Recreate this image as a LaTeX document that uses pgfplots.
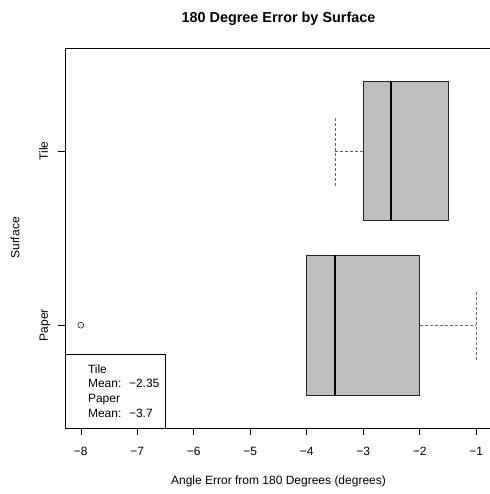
\documentclass[border=0pt]{standalone}
\usepackage{fontspec}
\setmainfont{Liberation Sans}
\usepackage{pgfplots}
\pgfplotsset{compat=1.18}
\usepgfplotslibrary{statistics}
\definecolor{boxgray}{HTML}{BEBEBE}
\begin{document}
\fontsize{12}{14}\selectfont
\begin{tikzpicture}
\begin{axis}[
  scale only axis,
  width=427pt, height=380pt,
  xmin=-8.28, xmax=-0.72,
  ymin=0.41, ymax=2.59,
  axis line style={black, line width=0.7pt},
  xtick={-8,-7,-6,-5,-4,-3,-2,-1},
  xticklabels={−8,−7,−6,−5,−4,−3,−2,−1},
  ytick={1,2},
  yticklabels={Paper,Tile},
  tick align=outside,
  major tick length=7pt,
  tick style={black, line width=0.6pt},
  xtick pos=bottom, ytick pos=left,
  xticklabel style={anchor=base, yshift=-20pt},
  yticklabel style={rotate=90, anchor=base, yshift=10pt},
  title={\bfseries 180 Degree Error by Surface},
  title style={at={(0.5,1)}, anchor=base, yshift=19pt, font=\fontsize{14.4}{16}\selectfont},
  xlabel={Angle Error from 180 Degrees (degrees)},
  xlabel style={at={(0.5,0)}, anchor=base, yshift=-56pt},
  ylabel={Surface},
  ylabel style={at={(0,0.5)}, anchor=base, yshift=45.5pt},
  boxplot/draw direction=x,
  clip=false,
]
\addplot+[boxplot prepared={draw position=1, lower whisker=-4, lower quartile=-4, median=-3.5, upper quartile=-2, upper whisker=-1, box extend=0.8, whisker extend=0.4},
  solid, draw=black!85, line width=0.6pt, fill=boxgray, mark=o, mark size=3pt, mark options={solid, black, line width=0.5pt},
  boxplot/every whisker/.style={dash pattern=on 3pt off 2pt, draw=black!60},
  boxplot/every median/.style={solid, draw=black, line width=2pt},
  boxplot/every box/.style={solid, draw=black!85, fill=boxgray}
] table[row sep=\\, y index=0] {-8\\};
\addplot+[boxplot prepared={draw position=2, lower whisker=-3.5, lower quartile=-3, median=-2.5, upper quartile=-1.5, upper whisker=-1.5, box extend=0.8, whisker extend=0.4},
  solid, draw=black!85, line width=0.6pt, fill=boxgray, mark=none,
  boxplot/every whisker/.style={dash pattern=on 3pt off 2pt, draw=black!60},
  boxplot/every median/.style={solid, draw=black, line width=2pt},
  boxplot/every box/.style={solid, draw=black!85, fill=boxgray}
] coordinates {};
\draw[black, line width=0.6pt, fill=white] (axis cs:-8.28,0.41) rectangle (axis cs:-6.504,0.834);
\node[anchor=base west, inner sep=0pt] at (axis cs:-7.876,0.725) {Tile};
\node[anchor=base west, inner sep=0pt] at (axis cs:-7.876,0.640) {Mean:};
\node[anchor=base west, inner sep=0pt] at (axis cs:-7.15,0.640) {−2.35};
\node[anchor=base west, inner sep=0pt] at (axis cs:-7.876,0.554) {Paper};
\node[anchor=base west, inner sep=0pt] at (axis cs:-7.876,0.471) {Mean:};
\node[anchor=base west, inner sep=0pt] at (axis cs:-7.15,0.471) {−3.7};
\end{axis}
\pgfresetboundingbox
\path ([shift={(-65pt,-66pt)}]current axis.south west) rectangle ([shift={(424pt,48pt)}]current axis.north west);
\end{tikzpicture}
\end{document}
